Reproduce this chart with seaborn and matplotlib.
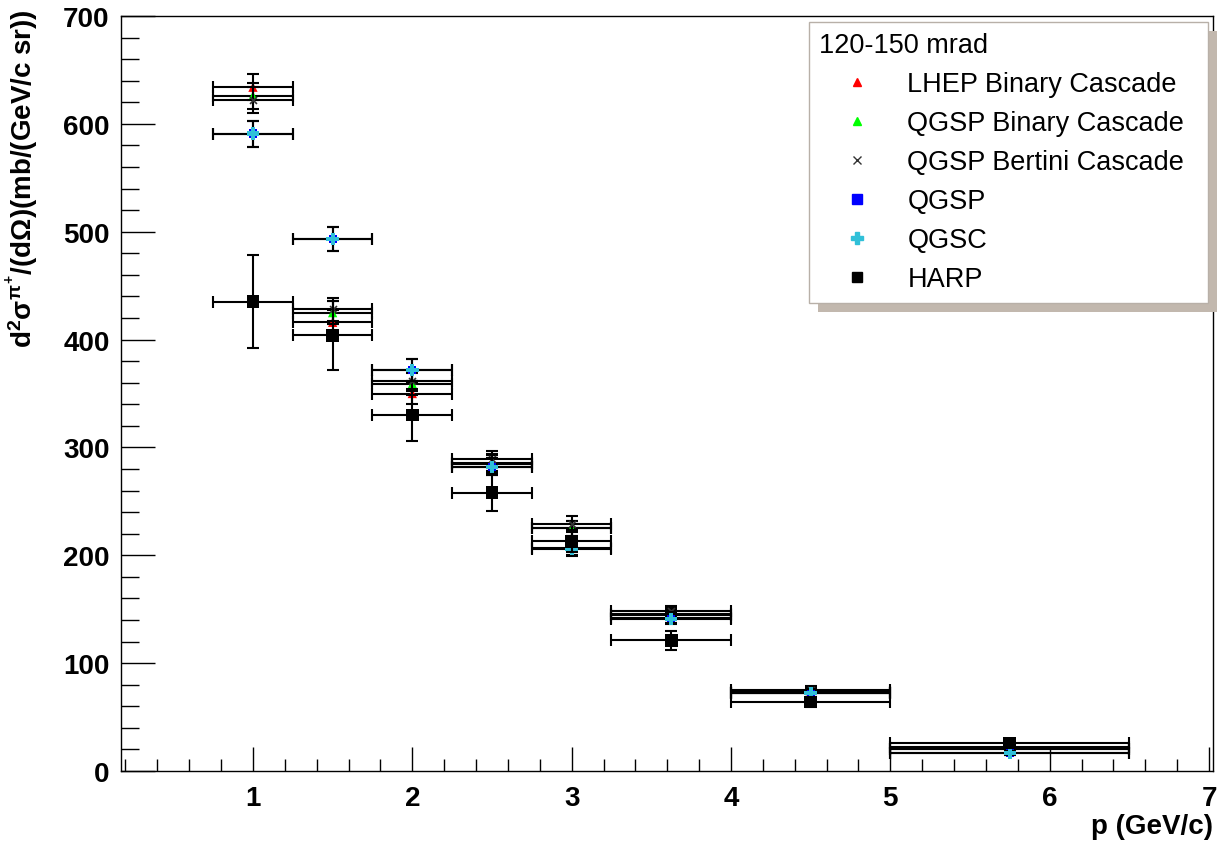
import matplotlib
matplotlib.use("Agg")
import matplotlib.pyplot as plt
from matplotlib.lines import Line2D
from matplotlib.patches import Rectangle
from matplotlib.ticker import MultipleLocator
import seaborn as sns
import numpy as np

# ---- data ----
p = [1.0, 1.5, 2.0, 2.5, 3.0, 3.625, 4.5, 5.75]
p_err = [0.25, 0.25, 0.25, 0.25, 0.25, 0.375, 0.5, 0.75]

lhep = [634, 416, 350, 286, 225, 146, 73, 20]
qgsp_bic = [626, 425, 359, 285, 225, 145, 72, 20]
qgsp_bert = [622, 428, 362, 289, 229, 148, 75, 22]
qgsp = [591, 493, 372, 282, 207, 142, 72, 17]
qgsc = [591, 493, 372, 282, 206, 141, 72, 17]
mc_err = [12, 11, 10, 8, 7, 5, 4, 2]

harp = [435, 404, 330, 258, 213, 121, 64, 26]
harp_err = [43, 32, 24, 17, 10, 9, 5, 3]

labels = ["LHEP Binary Cascade", "QGSP Binary Cascade", "QGSP Bertini Cascade",
          "QGSP", "QGSC", "HARP"]
legend_title = "120-150 mrad"

sns.set_style("white")
plt.rcParams['font.family'] = ['Liberation Sans', 'DejaVu Sans']
plt.rcParams['mathtext.fontset'] = 'custom'
plt.rcParams['mathtext.rm'] = 'Liberation Sans:bold'
plt.rcParams['mathtext.it'] = 'Liberation Sans:bold'
plt.rcParams['mathtext.bf'] = 'Liberation Sans:bold'
for k in ['text.color', 'axes.labelcolor', 'xtick.color', 'ytick.color']:
    plt.rcParams[k] = 'black'

fig = plt.figure(figsize=(12.25, 8.53), dpi=100)
ax = fig.add_axes([120.7 / 1225, (853 - 772) / 853, (1213 - 120.7) / 1225, (772 - 17) / 853])

series = [
    (lhep, mc_err, "^", "#ff0000", 45, "none"),
    (qgsp_bic, mc_err, "^", "#00ff00", 45, "none"),
    (qgsp_bert, mc_err, "x", "#333333", 25, None),
    (qgsp, mc_err, "s", "#0000ff", 35, "none"),
    (qgsc, mc_err, "P", "#30c0d8", 80, "none"),
    (harp, harp_err, "s", "#000000", 85, "none"),
]

for i, (vals, err, mk, col, size, ec) in enumerate(series):
    ax.errorbar(p, vals, xerr=p_err, yerr=err, fmt="none", ecolor="black",
                elinewidth=1.5, capsize=4.5, capthick=1.5, zorder=2 + i)
    kw = dict(edgecolor=ec) if ec is not None else dict(linewidth=1.2)
    sns.scatterplot(x=p, y=vals, marker=mk, color=col, s=size, ax=ax,
                    legend=False, zorder=2.5 + i, **kw)

ax.set_xlim(0.17, 7.025)
ax.set_ylim(0, 700)

ax.xaxis.set_major_locator(MultipleLocator(1))
ax.xaxis.set_minor_locator(MultipleLocator(0.2))
ax.yaxis.set_major_locator(MultipleLocator(100))
ax.yaxis.set_minor_locator(MultipleLocator(20))

ax.tick_params(axis='x', which='major', direction='in', length=17, width=1.0,
               labelsize=20, pad=10, top=False, bottom=True)
ax.tick_params(axis='x', which='minor', direction='in', length=8.6, width=1.0,
               top=False, bottom=True)
ax.tick_params(axis='y', which='major', direction='in', length=24.5, width=1.0,
               labelsize=20, pad=8, right=False, left=True)
ax.tick_params(axis='y', which='minor', direction='in', length=13, width=1.0,
               right=False, left=True)
for lab in ax.get_xticklabels() + ax.get_yticklabels():
    lab.set_fontweight('bold')

for s in ax.spines.values():
    s.set_linewidth(1.0)
    s.set_color('black')

ax.set_xlabel("p (GeV/c)", fontsize=20, fontweight='bold', loc='right')
ax.xaxis.set_label_coords(1.0, -0.055)
ax.set_ylabel(r"d$^{2}\sigma^{\pi^{+}}$/(d$\Omega$)(mb/(GeV/c sr))",
              fontsize=20, fontweight='bold', loc='top')
ax.yaxis.set_label_coords(-0.072, 1.01)

# legend
handles = [
    Line2D([], [], linestyle='none', marker='^', color='#ff0000', markersize=6),
    Line2D([], [], linestyle='none', marker='^', color='#00ff00', markersize=6),
    Line2D([], [], linestyle='none', marker='x', color='#333333', markersize=6, markeredgewidth=1),
    Line2D([], [], linestyle='none', marker='s', color='#0000ff', markersize=7),
    Line2D([], [], linestyle='none', marker='P', color='#30c0d8', markersize=8),
    Line2D([], [], linestyle='none', marker='s', color='#000000', markersize=7),
]
leg = ax.legend(handles, labels, title=legend_title, loc='upper left',
                bbox_to_anchor=(809 / 1225, 1 - 299 / 853, 399 / 1225, 276 / 853),
                bbox_transform=fig.transFigure, mode='expand',
                alignment='left', fontsize=19.5, title_fontsize=19.5, frameon=True,
                fancybox=False, edgecolor='#b8b0a8', framealpha=1,
                handlelength=2.75, handletextpad=0.5, labelspacing=0.48,
                borderpad=0.38, borderaxespad=0)
leg.get_frame().set_linewidth(1.0)
leg.set_zorder(20)

fig.canvas.draw()
bb = leg.get_frame().get_window_extent()
inv = ax.transAxes.inverted()
(x0, y0) = inv.transform((bb.x0 + 9, bb.y0 - 9))
(x1, y1) = inv.transform((bb.x1 + 9, bb.y1 - 9))
shadow = Rectangle((x0, y0), x1 - x0, y1 - y0, transform=ax.transAxes,
                   facecolor='#c2b8ae', edgecolor='none', zorder=19, clip_on=False)
ax.add_patch(shadow)

fig.savefig("out.png", dpi=100)
